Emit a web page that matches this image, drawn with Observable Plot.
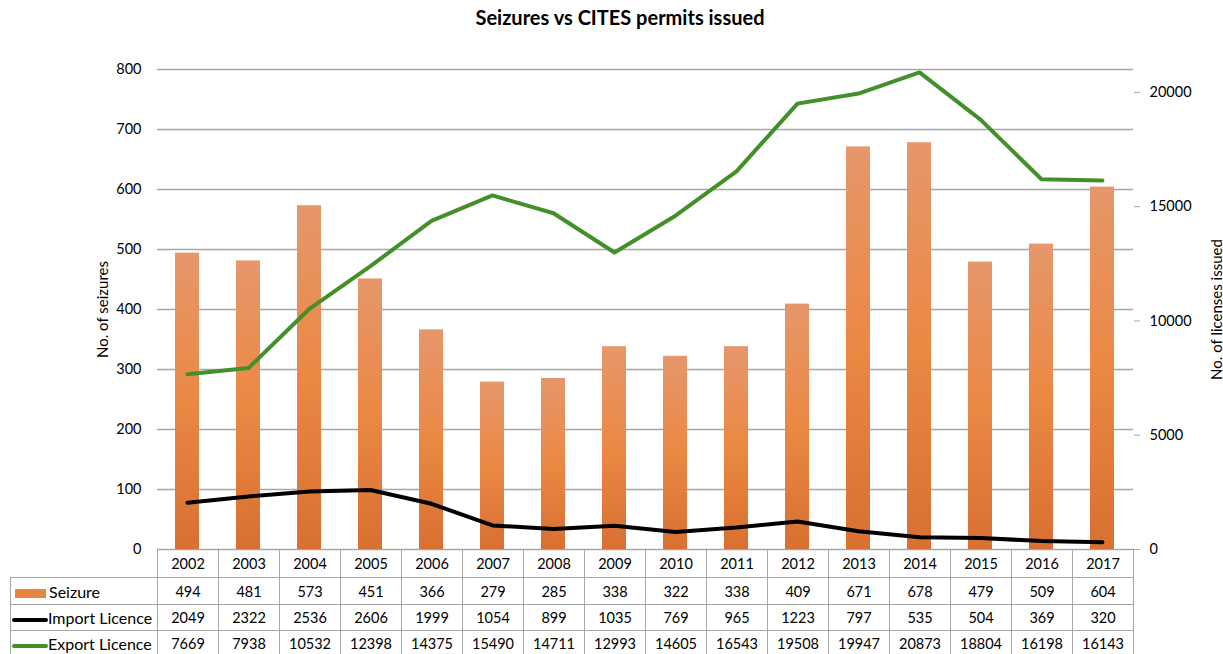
<!DOCTYPE html>
<html>
<head>
<meta charset="utf-8">
<script src="https://cdn.jsdelivr.net/npm/d3@7"></script>
<script src="https://cdn.jsdelivr.net/npm/@observablehq/plot@0.6"></script>
<style>
  html, body { margin: 0; padding: 0; background: #fff; }
  #wrap { position: relative; width: 1223px; height: 654px; overflow: hidden; font-family: Lato, "Open Sans", sans-serif; color: #000; }
  #title { position: absolute; top: 5px; left: 0; width: 1240px; text-align: center; font-weight: bold; font-size: 20px; }
  #chart { position: absolute; top: 0; left: 0; }
  #tbl { position: absolute; top: 549px; left: 10px; border-collapse: collapse; table-layout: fixed; font-size: 14.5px; }
  #tbl td { border: 1px solid #a6a6a6; text-align: center; padding: 0; white-space: nowrap; }
  #tbl td.blank { border: none; }
  #tbl td.lab { text-align: left; padding-left: 1px; font-size: 16px; }
  .sw { display: inline-block; vertical-align: middle; margin-right: 0px; }
</style>
</head>
<body>
<div id="wrap">
  <div id="chart"></div>
  <div id="title">Seizures vs CITES permits issued</div>
  <table id="tbl"></table>
</div>
<script>
const years = ["2002","2003","2004","2005","2006","2007","2008","2009","2010","2011","2012","2013","2014","2015","2016","2017"];
const seizures = [494,481,573,451,366,279,285,338,322,338,409,671,678,479,509,604];
const importLicence = [2049,2322,2536,2606,1999,1054,899,1035,769,965,1223,797,535,504,369,320];
const exportLicence = [7669,7938,10532,12398,14375,15490,14711,12993,14605,16543,19508,19947,20873,18804,16198,16143];
const leftTicks = [0,100,200,300,400,500,600,700,800];
const rightTicks = [0,5000,10000,15000,20000];
const leftMax = 800, rightMax = 21000;
const seriesNames = ["Seizure","Import Licence","Export Licence"];
const barColor = "#e8853f";
const importColor = "#000000";
const exportColor = "#43902b";

const k = leftMax / rightMax;
const rows = years.map((y, i) => ({year: y, seizure: seizures[i], imp: importLicence[i], exp: exportLicence[i]}));

const plot = Plot.plot({
  width: 1223, height: 654,
  marginTop: 69, marginBottom: 105, marginLeft: 157, marginRight: 90,
  style: {fontFamily: "Lato, 'Open Sans', sans-serif", fontSize: "14.5px", color: "#000", background: "transparent"},
  x: {type: "band", domain: years, paddingInner: 0.6, paddingOuter: 0.3, axis: null},
  y: {domain: [0, leftMax], axis: null},
  marks: [
    Plot.gridY(leftTicks, {stroke: "#a6a6a6", strokeOpacity: 1, strokeWidth: 1.3}),
    Plot.ruleX([0], {frameAnchor: "left", stroke: "#a6a6a6", strokeWidth: 1.3}),
    Plot.ruleX([0], {frameAnchor: "right", stroke: "#a6a6a6", strokeWidth: 1.3}),
    Plot.barY(rows, {x: "year", y: "seizure", fill: "url(#barGrad)"}),
    Plot.line(rows, {x: "year", y: d => d.imp * k, stroke: importColor, strokeWidth: 4, strokeLinecap: "round", strokeLinejoin: "round"}),
    Plot.line(rows, {x: "year", y: d => d.exp * k, stroke: exportColor, strokeWidth: 4, strokeLinecap: "round", strokeLinejoin: "round"}),
    Plot.axisY(leftTicks, {anchor: "left", tickSize: 0, tickPadding: 16, label: "No. of seizures", labelAnchor: "center", labelOffset: 60, labelArrow: "none"}),
    Plot.axisY(rightTicks.map(v => v * k), {anchor: "right", tickSize: 6, tickPadding: 10, stroke: "#a6a6a6", tickFormat: v => String(Math.round(v / k)), label: "No. of licenses issued", labelAnchor: "center", labelOffset: 88, labelArrow: "none"})
  ]
});

const svg = d3.select(plot);
svg.selectAll("[aria-label='y-axis label'] text, [aria-label='y-axis label']").style("font-size", "15px");
const grad = svg.insert("defs", ":first-child").append("linearGradient")
  .attr("id", "barGrad").attr("x1", 0).attr("y1", 0).attr("x2", 0).attr("y2", 1);
grad.append("stop").attr("offset", "0%").attr("stop-color", "#e6976b");
grad.append("stop").attr("offset", "50%").attr("stop-color", "#eb8844");
grad.append("stop").attr("offset", "100%").attr("stop-color", "#d77031");
document.getElementById("chart").appendChild(plot);

// data table below the chart
const tbl = d3.select("#tbl");
const cg = tbl.append("colgroup");
cg.append("col").style("width", "147px");
years.forEach(() => cg.append("col").style("width", "61px"));
const hdr = tbl.append("tr").style("height", "28px");
hdr.append("td").attr("class", "blank");
years.forEach(y => hdr.append("td").text(y));
const series = [
  {name: seriesNames[0], vals: seizures, sw: s => s.style("width", "31px").style("height", "9px").style("background", barColor).style("margin-left", "3px").style("margin-right", "3px")},
  {name: seriesNames[1], vals: importLicence, sw: s => s.style("width", "36px").style("height", "4px").style("background", importColor).style("border-radius", "2px")},
  {name: seriesNames[2], vals: exportLicence, sw: s => s.style("width", "36px").style("height", "4px").style("background", exportColor).style("border-radius", "2px")}
];
const rh = ["27px", "26px", "26px"];
series.forEach((s, j) => {
  const tr = tbl.append("tr").style("height", rh[j]);
  const lab = tr.append("td").attr("class", "lab");
  s.sw(lab.append("span").attr("class", "sw"));
  lab.append("span").text(s.name);
  s.vals.forEach(v => tr.append("td").text(v));
});
</script>
</body>
</html>
